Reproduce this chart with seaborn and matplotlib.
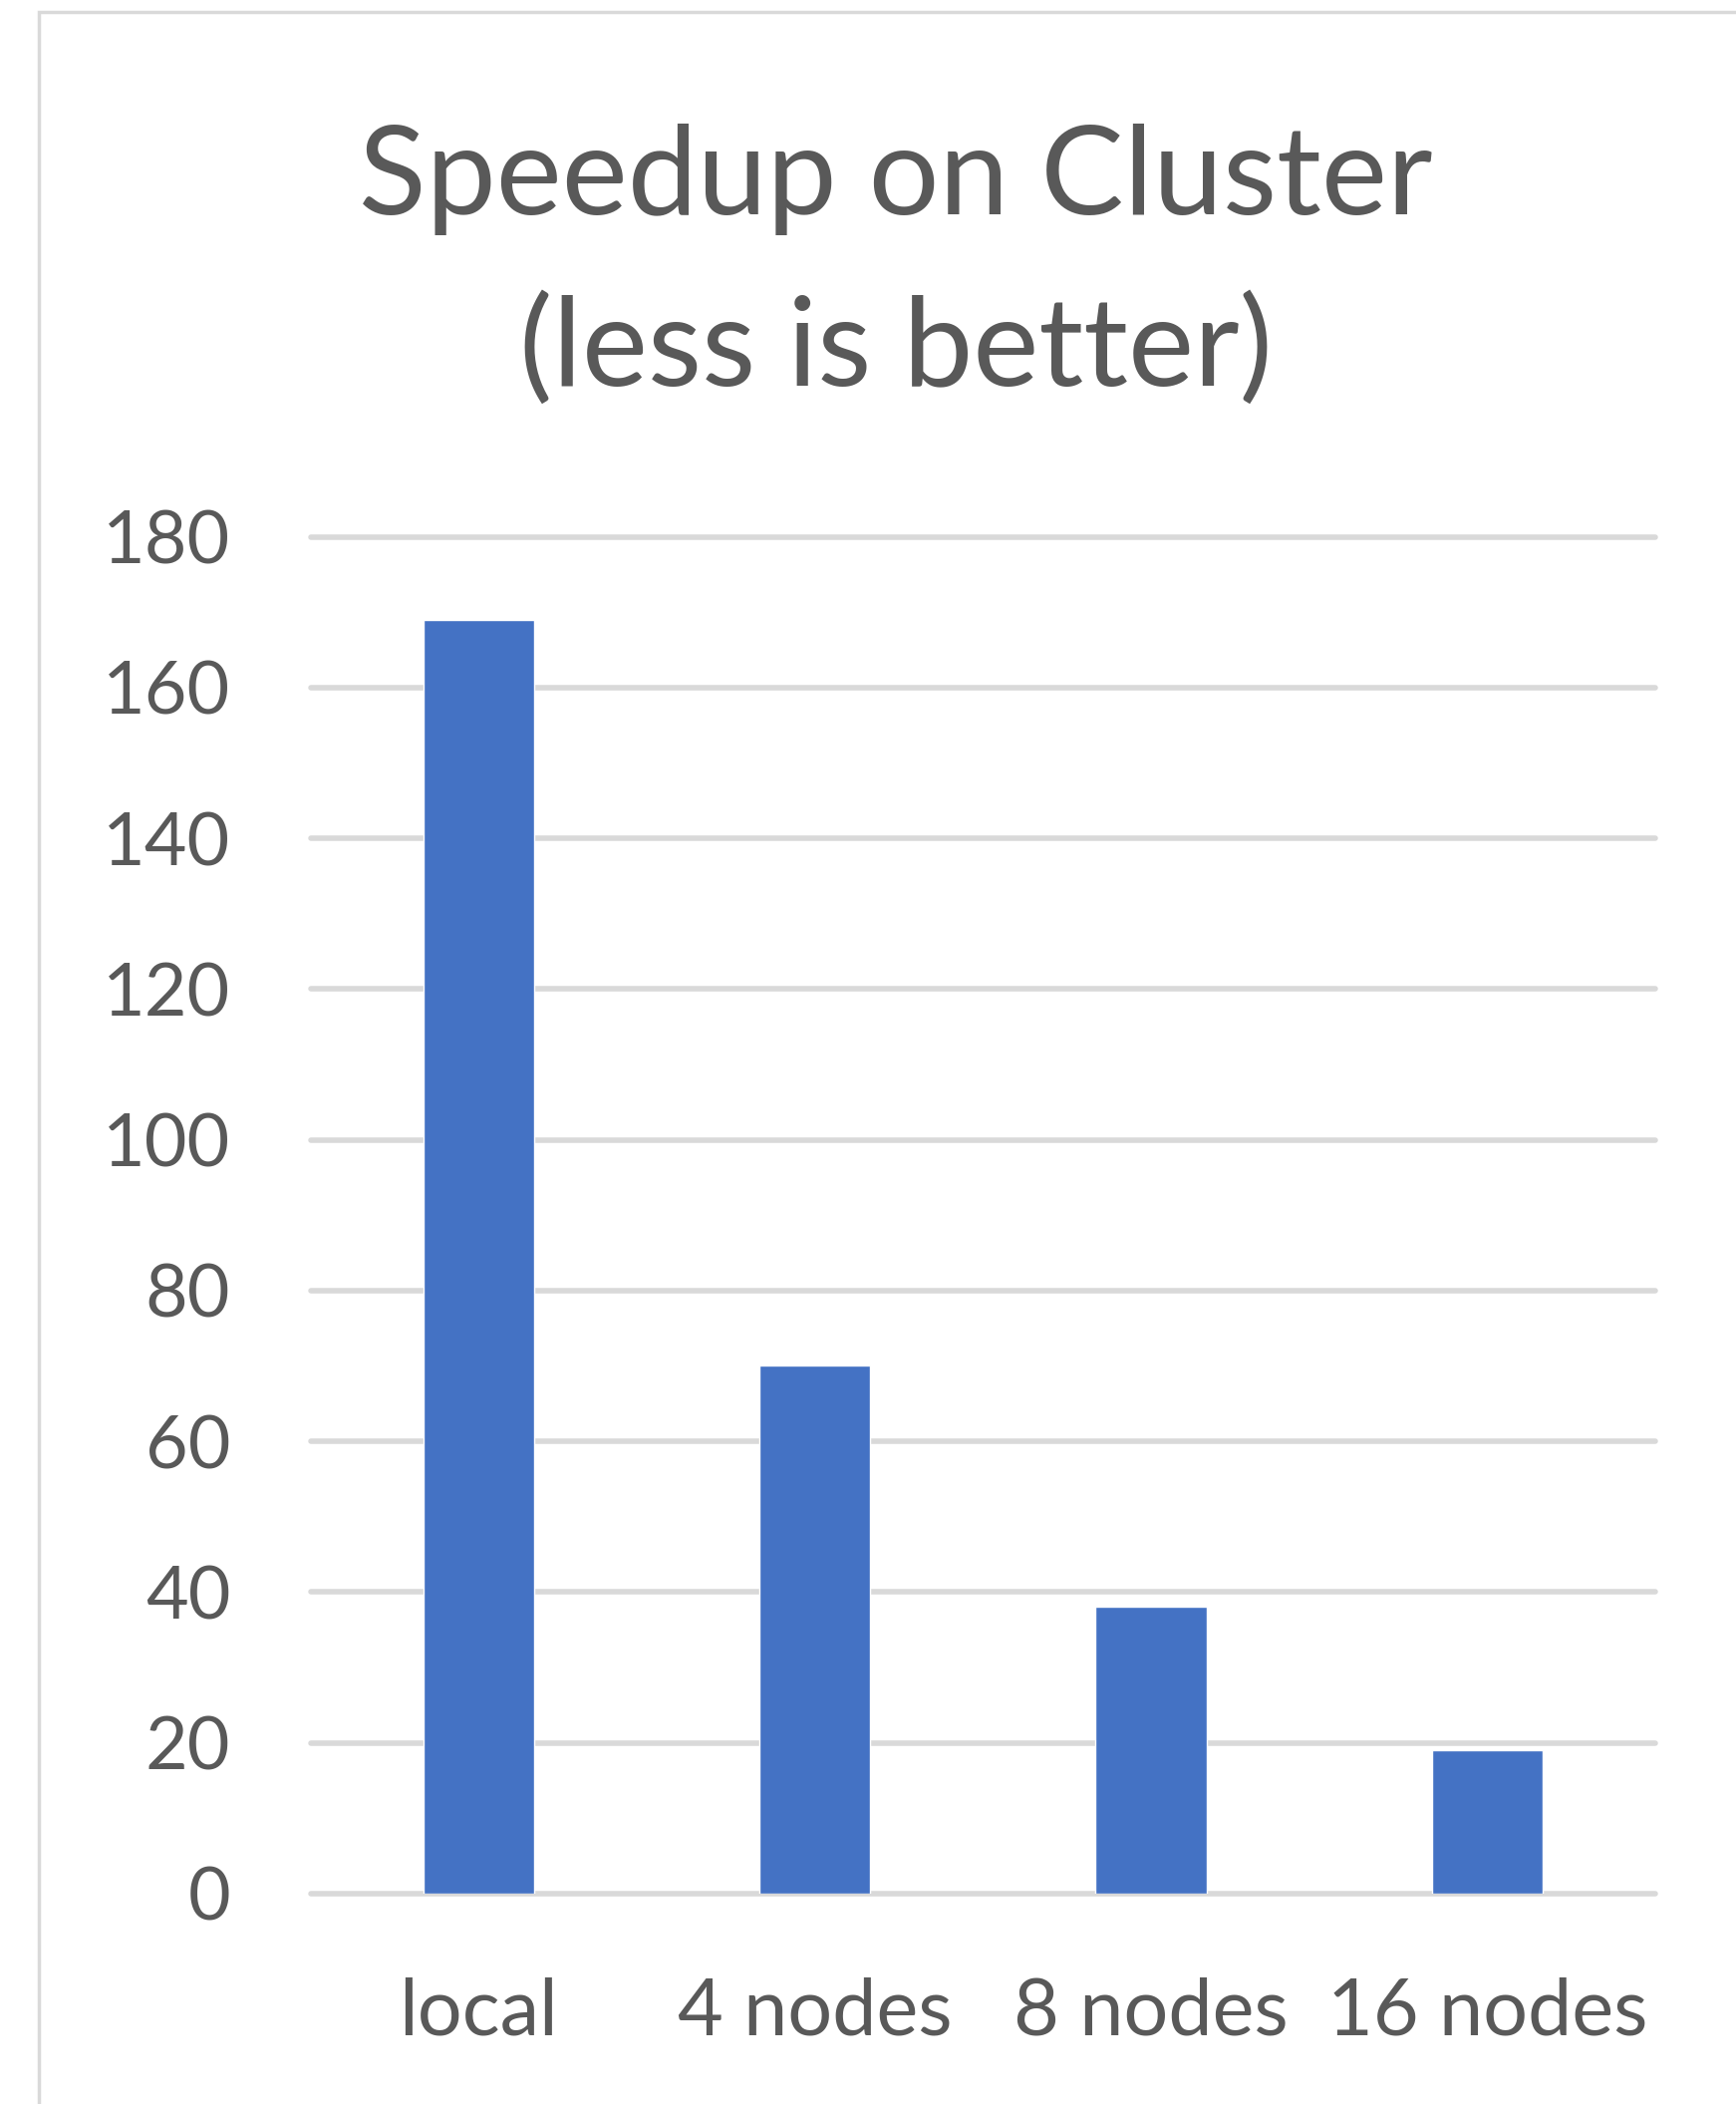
import pandas as pd
import seaborn as sns
import matplotlib.pyplot as plt
from matplotlib.patches import Rectangle

# data
categories = ['local', '4 nodes', '8 nodes', '16 nodes']
speedup = [169, 70, 38, 19]
y_ticks = [0, 20, 40, 60, 80, 100, 120, 140, 160, 180]
title_lines = ['Speedup on Cluster', '(less is better)']

bar_color = '#4472C4'
text_color = '#595959'
grid_color = '#D9D9D9'

df = pd.DataFrame({'setup': categories, 'time': speedup})

sns.set_theme(style='white')
plt.rcParams['font.family'] = ['Lato', 'DejaVu Sans']

fig = plt.figure(figsize=(17.42, 21.11), dpi=100)
ax = fig.add_axes([0.179, 0.1, 0.7745, 0.6449])

sns.barplot(x='setup', y='time', data=df, color=bar_color,
            saturation=1, width=0.33, ax=ax)

ax.set_ylim(0, 180)
ax.set_yticks(y_ticks)
ax.set_axisbelow(True)
ax.yaxis.grid(True, color=grid_color, linewidth=4, solid_capstyle='round')
for line in ax.get_ygridlines():
    line.set_clip_on(False)

sns.despine(ax=ax, left=True, bottom=True)
ax.tick_params(axis='y', length=0, pad=58, labelsize=53, labelcolor=text_color)
ax.tick_params(axis='x', length=0, pad=60, labelsize=57, labelcolor=text_color)
ax.set(xlabel='', ylabel='')

# title, two lines placed by baseline
for txt, yb in zip(title_lines, [0.898, 0.817]):
    fig.text(0.516, yb, txt, ha='center', va='baseline',
             fontsize=90, color=text_color)

'''light chart-area border like the office export'''
fig.add_artist(Rectangle((0.0224, -0.05), 1.1, 1.0443, transform=fig.transFigure,
                         fill=False, edgecolor=grid_color, linewidth=2.5))

fig.savefig('out.png', dpi=100)
